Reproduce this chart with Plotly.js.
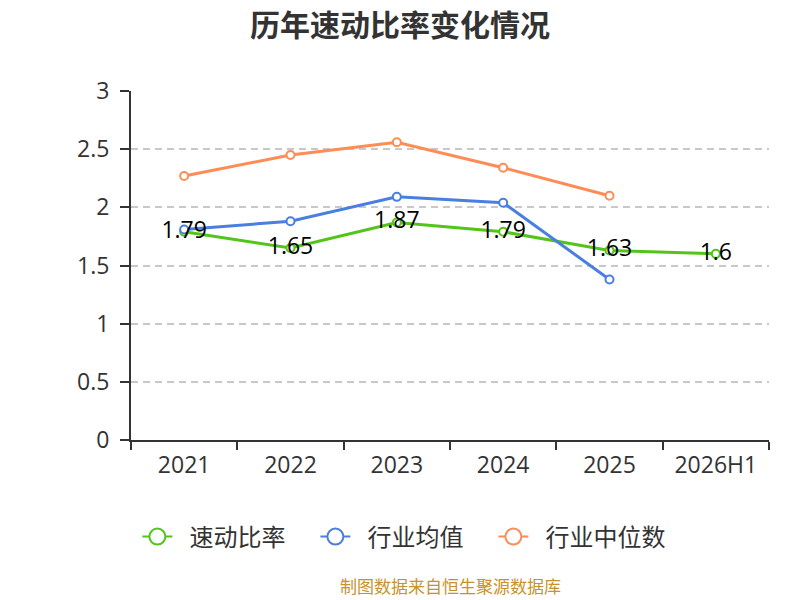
<!DOCTYPE html>
<html>
<head>
<meta charset="utf-8">
<script src="https://cdn.plot.ly/plotly-3.0.1.min.js"></script>
<style>
  body { margin: 0; background: #fff; }
  #chart { width: 800px; height: 600px; }
</style>
</head>
<body>
<div id="chart"></div>
<script>
// data
var years = ['2021', '2022', '2023', '2024', '2025', '2026H1']
var quick_ratio = [1.79, 1.65, 1.87, 1.79, 1.63, 1.6]
var industry_avg = [1.81, 1.88, 2.09, 2.04, 1.38]
var industry_median = [2.27, 2.45, 2.56, 2.34, 2.10]
var y_ticks = [0, 0.5, 1, 1.5, 2, 2.5, 3]

var font_cn = '"Noto Sans CJK SC", "Noto Sans", sans-serif'
var font_num = '"Open Sans", "Noto Sans CJK SC", sans-serif'

// plot trace, legend handled by separate entries so the circles can be big
function series(name, x, y, color, labels) {
    var t = {
        name: name,
        x: x,
        y: y,
        type: 'scatter',
        mode: labels ? 'lines+markers+text' : 'lines+markers',
        line: { color: color, width: 3 },
        marker: { size: 8, color: '#fff', line: { color: color, width: 2 } },
        showlegend: false,
        cliponaxis: false
    }
    if (labels) {
        t.text = y.map(function (v) { return String(v) })
        t.textposition = 'middle center'
        t.textfont = { size: 23, color: '#000', family: font_num }
    }
    return t
}

function legend_entry(name, color) {
    return {
        name: '\u2002' + name,   // en space, gap between symbol and text
        x: [null], y: [null],
        type: 'scatter',
        mode: 'lines+markers',
        line: { color: color, width: 2 },
        marker: { size: 16, color: '#fff', line: { color: color, width: 2 } },
        hoverinfo: 'skip'
    }
}

var data = [
    series('速动比率', years, quick_ratio, '#52c41a', false),
    series('行业均值', years.slice(0, industry_avg.length), industry_avg, '#4a7fe1', false),
    series('行业中位数', years.slice(0, industry_median.length), industry_median, '#ff8b55', false),
    legend_entry('速动比率', '#52c41a'),
    legend_entry('行业均值', '#4a7fe1'),
    legend_entry('行业中位数', '#ff8b55')
]
// labels on top of everything
var labels = series('速动比率', years, quick_ratio, '#52c41a', true)
labels.mode = 'text'
data.push(labels)

var layout = {
    width: 800,
    height: 600,
    margin: { l: 131, r: 31, t: 91, b: 160 },
    paper_bgcolor: '#fff',
    plot_bgcolor: '#fff',
    font: { family: font_cn, color: '#333' },
    title: {
        text: '<b>历年速动比率变化情况</b>',
        x: 0.5, xanchor: 'center',
        y: 0.958, yanchor: 'middle',
        font: { size: 30, color: '#333', family: font_cn }
    },
    xaxis: {
        type: 'category',
        categoryorder: 'array',
        categoryarray: years,
        range: [-0.5, 5.5],
        showline: true, linecolor: '#333', linewidth: 2,
        ticks: 'outside', tickson: 'boundaries', ticklen: 8, tickwidth: 2, tickcolor: '#333',
        ticklabelstandoff: 3,
        showgrid: false, zeroline: false,
        tickfont: { size: 23, color: '#333', family: font_num }
    },
    yaxis: {
        range: [0, 3],
        tickvals: y_ticks,
        ticktext: y_ticks.map(String),
        showline: true, linecolor: '#333', linewidth: 2,
        ticks: 'outside', ticklen: 9, tickwidth: 2, tickcolor: '#333',
        ticklabelstandoff: 6,
        showgrid: true, gridcolor: '#c8c8c8', griddash: '7px,5px', gridwidth: 1.5,
        zeroline: false,
        tickfont: { size: 23, color: '#333', family: font_num }
    },
    showlegend: true,
    legend: {
        orientation: 'h',
        x: 0.01, xanchor: 'left',
        y: -0.278, yanchor: 'middle',
        font: { size: 24, color: '#333', family: font_cn },
        entrywidth: 133,
        entrywidthmode: 'pixels'
    },
    annotations: [{
        text: '制图数据来自恒生聚源数据库',
        xref: 'paper', yref: 'paper',
        x: 0.5, xanchor: 'center',
        y: -0.418, yanchor: 'middle',
        showarrow: false,
        font: { size: 17, color: '#c8922a', family: font_cn }
    }]
}

Plotly.newPlot('chart', data, layout, { displayModeBar: false })
</script>
</body>
</html>
